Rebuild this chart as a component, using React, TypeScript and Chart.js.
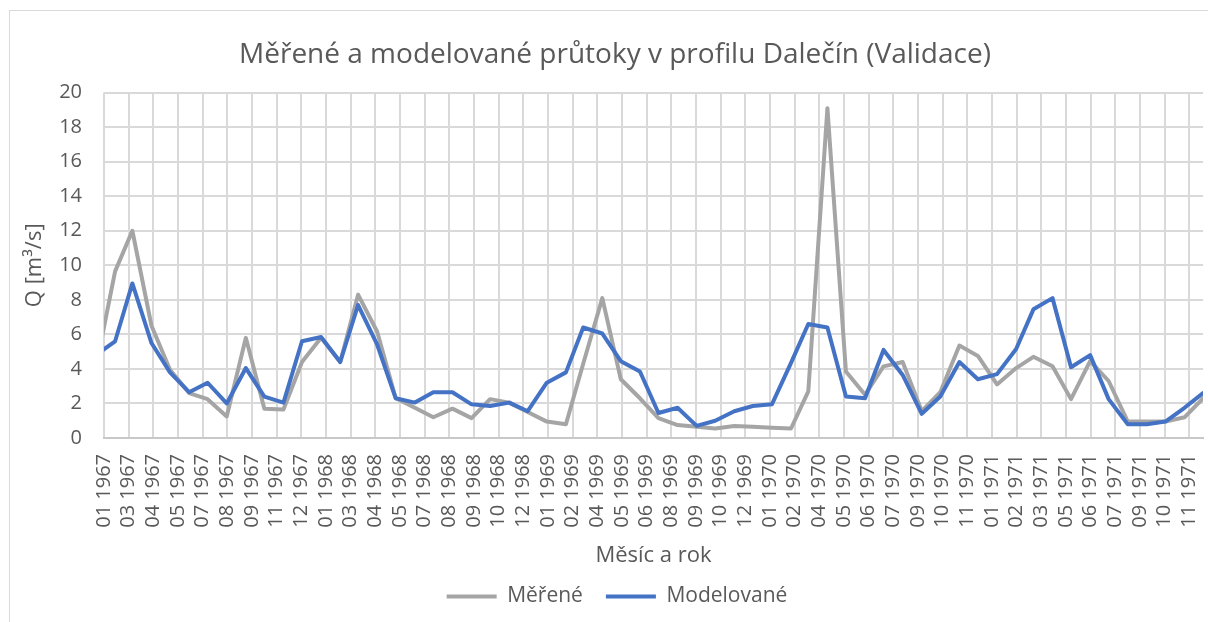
import React, { useEffect, useRef } from "react";
import { Chart, registerables } from "chart.js";

Chart.register(...registerables);

// ---------- data ----------
const months = [
  "1967-01", "1967-02", "1967-03", "1967-04", "1967-05", "1967-06", "1967-07", "1967-08", "1967-09", "1967-10", "1967-11", "1967-12",
  "1968-01", "1968-02", "1968-03", "1968-04", "1968-05", "1968-06", "1968-07", "1968-08", "1968-09", "1968-10", "1968-11", "1968-12",
  "1969-01", "1969-02", "1969-03", "1969-04", "1969-05", "1969-06", "1969-07", "1969-08", "1969-09", "1969-10", "1969-11", "1969-12",
  "1970-01", "1970-02", "1970-03", "1970-04", "1970-05", "1970-06", "1970-07", "1970-08", "1970-09", "1970-10", "1970-11", "1970-12",
  "1971-01", "1971-02", "1971-03", "1971-04", "1971-05", "1971-06", "1971-07", "1971-08", "1971-09", "1971-10", "1971-11", "1971-12",
];

const measured = [
  4.1, 9.65, 12.0, 6.5, 3.95, 2.6, 2.25, 1.25, 5.8, 1.7, 1.65, 4.4,
  5.8, 4.4, 8.3, 6.15, 2.3, 1.75, 1.2, 1.7, 1.15, 2.25, 2.05, 1.5,
  0.95, 0.8, 4.3, 8.1, 3.4, 2.3, 1.15, 0.75, 0.65, 0.55, 0.7, 0.65,
  0.6, 0.55, 2.7, 19.1, 3.85, 2.5, 4.15, 4.4, 1.55, 2.65, 5.35, 4.75,
  3.1, 4.05, 4.7, 4.15, 2.25, 4.45, 3.3, 0.95, 0.95, 0.95, 1.2, 2.3,
];

const modelled = [
  4.8, 5.6, 8.95, 5.5, 3.8, 2.65, 3.2, 2.0, 4.05, 2.4, 2.05, 5.6,
  5.85, 4.4, 7.7, 5.4, 2.3, 2.05, 2.65, 2.65, 1.95, 1.85, 2.05, 1.55,
  3.2, 3.8, 6.4, 6.05, 4.45, 3.85, 1.45, 1.75, 0.7, 1.0, 1.55, 1.85,
  1.95, 4.35, 6.6, 6.4, 2.4, 2.3, 5.1, 3.65, 1.4, 2.4, 4.4, 3.4,
  3.7, 5.15, 7.45, 8.1, 4.1, 4.8, 2.25, 0.8, 0.8, 0.95, 1.75, 2.6,
];

const xTickLabels = [
  "01 1967", "03 1967", "04 1967", "05 1967", "07 1967", "08 1967", "09 1967", "11 1967", "12 1967",
  "01 1968", "03 1968", "04 1968", "05 1968", "07 1968", "08 1968", "09 1968", "10 1968", "12 1968",
  "01 1969", "02 1969", "04 1969", "05 1969", "06 1969", "08 1969", "09 1969", "10 1969", "12 1969",
  "01 1970", "02 1970", "04 1970", "05 1970", "06 1970", "07 1970", "09 1970", "10 1970", "11 1970",
  "01 1971", "02 1971", "03 1971", "05 1971", "06 1971", "07 1971", "09 1971", "10 1971", "11 1971",
];

const seriesNames = ["Měřené", "Modelované"];
const seriesColors = ["#a5a5a5", "#4472c4"];
const axisStartDate = "1967-01-28";
const tickStepDays = 40;
const yMin = 0;
const yMax = 20;
const yStep = 2;

const titleText = "Měřené a modelované průtoky v profilu Dalečín (Validace)";
const xTitle = "Měsíc a rok";
const yTitle = "Q [m³/s]";

// ---------- helpers ----------
const DAY_MS = 86400000;
const EPOCH = Date.UTC(1967, 0, 1);
const toDay = (iso: string) => {
  const parts = iso.split("-").map(Number);
  const d = parts.length > 2 ? parts[2] : 15;
  return (Date.UTC(parts[0], parts[1] - 1, d) - EPOCH) / DAY_MS;
};

const TEXT = "#595959";
const GRID = "#d9d9d9";

const borderPlugin = {
  id: "chartBorder",
  beforeDraw(chart: any) {
    const { ctx, width, height } = chart;
    ctx.save();
    ctx.fillStyle = "#ffffff";
    ctx.fillRect(0, 0, width, height);
    ctx.strokeStyle = "#d9d9d9";
    ctx.lineWidth = 1;
    ctx.strokeRect(9.5, 10.5, width + 50, height + 50);
    ctx.restore();
  },
};

const shiftPlugin = {
  id: "shiftBlocks",
  afterLayout(chart: any) {
    const l = chart.legend;
    if (l) {
      l.left += 11;
      l.right += 11;
    }
    const t = chart.titleBlock;
    if (t) {
      t.left += 9;
      t.right += 9;
    }
  },
};

export default function App() {
  const canvasRef = useRef<HTMLCanvasElement | null>(null);

  useEffect(() => {
    const canvas = canvasRef.current;
    if (!canvas) return;
    Chart.defaults.font.family = "'Open Sans', sans-serif";

    const xs = months.map((m) => toDay(m));
    const start = toDay(axisStartDate);
    const end = xs[xs.length - 1];

    const mk = (vals: number[], i: number) => ({
      label: seriesNames[i],
      data: vals.map((v, k) => ({ x: xs[k], y: v })),
      borderColor: seriesColors[i],
      backgroundColor: seriesColors[i],
      borderWidth: 4,
      pointRadius: 0,
      pointHoverRadius: 0,
      tension: 0,
      clip: 0,
      borderJoinStyle: "round" as const,
      borderCapStyle: "round" as const,
      order: i === 0 ? 1 : 0,
    });

    const chart = new Chart(canvas, {
      type: "line",
      data: { datasets: [mk(measured, 0), mk(modelled, 1)] },
      options: {
        responsive: false,
        animation: false,
        devicePixelRatio: 1,
        layout: { padding: { left: 9, right: 5, top: 0, bottom: 5 } },
        plugins: {
          title: {
            display: true,
            text: titleText,
            color: TEXT,
            font: { size: 28, weight: "normal" },
            padding: { top: 38, bottom: 21 },
          },
          legend: {
            position: "bottom",
            labels: {
              color: TEXT,
              font: { size: 21 },
              boxWidth: 50,
              boxHeight: 4,
              padding: 23,
              generateLabels: (c: any) =>
                c.data.datasets.map((ds: any, i: number) => ({
                  text: ds.label,
                  fillStyle: ds.borderColor,
                  strokeStyle: ds.borderColor,
                  lineWidth: 0,
                  hidden: false,
                  datasetIndex: i,
                  fontColor: TEXT,
                })),
            },
          },
          tooltip: { enabled: false },
        },
        scales: {
          x: {
            type: "linear",
            min: start,
            max: end,
            afterBuildTicks: (scale: any) => {
              scale.ticks = xTickLabels.map((_, i) => ({ value: start + i * tickStepDays }));
            },
            afterFit: (scale: any) => {
              scale.height = 125;
              scale.paddingLeft = 0;
              scale.paddingRight = 0;
            },
            ticks: {
              autoSkip: false,
              minRotation: 90,
              maxRotation: 90,
              padding: 16,
              color: TEXT,
              font: { size: 20 },
              callback: (_v: any, i: number) => xTickLabels[i],
            },
            grid: { color: GRID, lineWidth: 2, drawTicks: false },
            border: { display: true, color: "#c8c8c8", width: 2 },
            title: {
              display: true,
              text: xTitle,
              color: TEXT,
              font: { size: 22 },
              padding: { top: 0, bottom: -6 },
            },
          },
          y: {
            min: yMin,
            max: yMax,
            afterFit: (scale: any) => {
              scale.width = 95;
            },
            ticks: { stepSize: yStep, padding: 22, color: TEXT, font: { size: 20 } },
            grid: { color: GRID, lineWidth: 2, drawTicks: false },
            border: { display: false },
            title: {
              display: true,
              text: yTitle,
              color: TEXT,
              font: { size: 22 },
              padding: { top: 13, bottom: 0 },
            },
          },
        },
      } as any,
      plugins: [borderPlugin, shiftPlugin],
    });

    return () => chart.destroy();
  }, []);

  return (
    <div style={{ position: "absolute", left: 0, top: 0, width: 1208, height: 622, background: "#fff" }}>
      <canvas ref={canvasRef} width={1208} height={622} style={{ display: "block" }} />
    </div>
  );
}
